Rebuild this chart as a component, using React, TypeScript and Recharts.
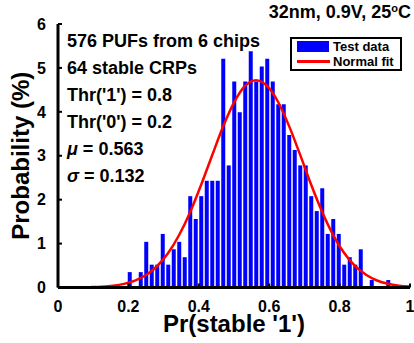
import { ComposedChart, Bar, Line, XAxis, YAxis, Legend } from 'recharts';

// histogram bins are k/64 (64 stable CRPs per PUF)
const binIndex = [
    13, 14, 15, 16, 17, 18, 19, 20, 21, 22, 23, 24, 25, 26, 27, 28, 29, 30, 31, 32, 33, 34, 35, 36,
    37, 38, 39, 40, 41, 42, 43, 44, 45, 46, 47, 48, 49, 50, 51, 52, 53, 54, 55, 56, 57, 58, 59, 60,
];
const binPercent = [
    0.35, 0, 0.35, 1.04, 0.52, 0.52, 1.22, 0.52, 0.87, 1.04, 0.69, 2.08, 1.56, 2.08, 2.43, 2.43,
    2.43, 5.21, 2.78, 4.69, 3.99, 4.69, 5.38, 4.69, 5.03, 5.21, 4.69, 4.17, 4.17, 3.47, 3.13, 2.78,
    2.78, 2.08, 1.74, 2.26, 1.22, 1.56, 1.22, 0.52, 0.69, 0.52, 0.87, 0, 0.17, 0, 0, 0.17,
];

// normal fit curve, read every 2 bins
const fitIndex = [
    0, 2, 4, 6, 8, 10, 12, 14, 16, 18, 20, 22, 24, 26, 28, 30, 32, 34, 36, 38, 40, 42, 44, 46, 48,
    50, 52, 54, 56, 58, 60, 62, 64,
];
const fitPercent = [
    0.0005, 0.0014, 0.0036, 0.0085, 0.019, 0.041, 0.083, 0.157, 0.284, 0.484, 0.78, 1.19, 1.71,
    2.33, 3.0, 3.66, 4.21, 4.59, 4.72, 4.59, 4.23, 3.68, 3.03, 2.35, 1.73, 1.2, 0.79, 0.49, 0.29,
    0.16, 0.084, 0.042, 0.02,
];

const xTicks = [0, 0.2, 0.4, 0.6, 0.8, 1];
const yTicks = [0, 1, 2, 3, 4, 5, 6];

const notes = ['576 PUFs from 6 chips', '64 stable CRPs', "Thr('1') = 0.8", "Thr('0') = 0.2"];
const stats = [
    { sym: 'μ', val: '0.563' },
    { sym: 'σ', val: '0.132' },
];

const FONT = '"Liberation Sans", Arial, sans-serif';

const data = Array.from({ length: 65 }, (_, k) => {
    const bi = binIndex.indexOf(k);
    const fi = fitIndex.indexOf(k);
    return {
        x: k / 64,
        prob: bi >= 0 && binPercent[bi] > 0 ? binPercent[bi] : null,
        fit: fi >= 0 ? fitPercent[fi] : null,
    };
});

const tickStyle = { fill: '#000', fontSize: 16, fontWeight: 'bold', fontFamily: FONT };
const axisLine = { stroke: '#000', strokeWidth: 3 };
const tickLine = { stroke: '#000', strokeWidth: 2 };

function LegendBox() {
    return (
        <div
            style={{
                boxSizing: 'border-box',
                width: 112,
                height: 34,
                border: '2px solid #000',
                background: '#fff',
                padding: '0 5px',
                fontFamily: FONT,
                fontWeight: 'bold',
                fontSize: 13,
                lineHeight: '15px',
                color: '#000',
            }}
        >
            <div style={{ display: 'flex', alignItems: 'center', height: 15 }}>
                <span style={{ display: 'inline-block', width: 32, height: 11, background: '#0000ff', marginRight: 4 }} />
                Test data
            </div>
            <div style={{ display: 'flex', alignItems: 'center', height: 15 }}>
                <span style={{ display: 'inline-block', width: 33, height: 3, background: '#ff0000', marginRight: 3 }} />
                Normal fit
            </div>
        </div>
    );
}

export default function App() {
    return (
        <div style={{ position: 'absolute', left: 0, top: 0, width: 414, height: 343, background: '#fff' }}>
            <ComposedChart width={414} height={343} data={data} margin={{ top: 24, right: 4, bottom: 0, left: 0 }}>
                <XAxis
                    xAxisId="x"
                    dataKey="x"
                    type="number"
                    domain={[0, 1]}
                    ticks={xTicks}
                    interval={0}
                    height={55.5}
                    axisLine={axisLine}
                    tickLine={tickLine}
                    tickSize={-4}
                    tickMargin={17}
                    tick={tickStyle}
                    label={{
                        value: "Pr(stable '1')",
                        position: 'insideBottom',
                        offset: 11,
                        fontSize: 24,
                        fontWeight: 'bold',
                        fontFamily: FONT,
                        fill: '#000',
                    }}
                />
                <XAxis
                    xAxisId="top"
                    orientation="top"
                    dataKey="x"
                    type="number"
                    domain={[0, 1]}
                    ticks={xTicks}
                    interval={0}
                    height={0}
                    axisLine={axisLine}
                    tickLine={tickLine}
                    tickSize={-4}
                    tick={false}
                />
                <YAxis
                    yAxisId="left"
                    type="number"
                    domain={[0, 6]}
                    ticks={yTicks}
                    interval={0}
                    width={58}
                    axisLine={axisLine}
                    tickLine={tickLine}
                    tickSize={-4}
                    tickMargin={16}
                    tick={tickStyle}
                    label={{
                        value: 'Probability (%)',
                        angle: -90,
                        position: 'center',
                        dx: -9,
                        fontSize: 24,
                        fontWeight: 'bold',
                        fontFamily: FONT,
                        fill: '#000',
                    }}
                />
                <YAxis
                    yAxisId="right"
                    orientation="right"
                    type="number"
                    domain={[0, 6]}
                    ticks={yTicks}
                    interval={0}
                    width={0}
                    axisLine={axisLine}
                    tickLine={tickLine}
                    tickSize={-4}
                    tick={false}
                />
                <Bar xAxisId="x" yAxisId="left" dataKey="prob" name="Test data" fill="#0000ff" barSize={4} isAnimationActive={false} />
                <Line
                    xAxisId="x"
                    yAxisId="left"
                    dataKey="fit"
                    name="Normal fit"
                    type="monotone"
                    stroke="#ff0000"
                    strokeWidth={2.5}
                    dot={false}
                    connectNulls
                    isAnimationActive={false}
                />
                <Legend
                    content={LegendBox}
                    layout="horizontal"
                    verticalAlign="middle"
                    align="center"
                    wrapperStyle={{ left: 290, top: 37, width: 112, height: 34 }}
                />
            </ComposedChart>

            <div
                style={{
                    position: 'absolute',
                    right: 3,
                    top: 1,
                    fontFamily: FONT,
                    fontWeight: 'bold',
                    fontSize: 18,
                    lineHeight: '22px',
                    color: '#000',
                    whiteSpace: 'nowrap',
                }}
            >
                32nm, 0.9V, 25<sup style={{ fontSize: 11, verticalAlign: 'top', lineHeight: '14px' }}>o</sup>C
            </div>

            <div
                style={{
                    position: 'absolute',
                    left: 67,
                    top: 28,
                    fontFamily: FONT,
                    fontWeight: 'bold',
                    fontSize: 18,
                    lineHeight: '27px',
                    color: '#000',
                    whiteSpace: 'nowrap',
                }}
            >
                {notes.map((n) => (
                    <div key={n}>{n}</div>
                ))}
                {stats.map((s) => (
                    <div key={s.sym}>
                        <i>{s.sym}</i> = {s.val}
                    </div>
                ))}
            </div>
        </div>
    );
}
